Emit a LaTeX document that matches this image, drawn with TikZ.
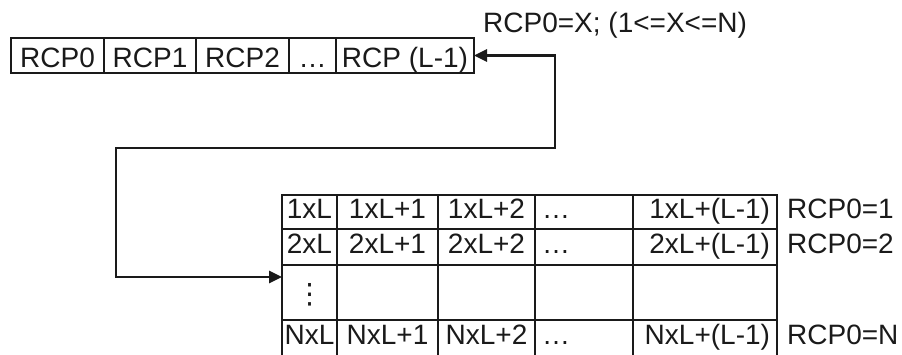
\documentclass[tikz,border=0pt]{standalone}
\usepackage{fontspec}
\setmainfont{Liberation Sans}
\newfontfamily\symfont{DejaVu Sans}
\usetikzlibrary{arrows.meta}
\definecolor{ink}{HTML}{1A1A1A}
\begin{document}
\begin{tikzpicture}[x=1pt,y=-1pt,
  txt/.style={font=\fontsize{28}{33}\selectfont, text=ink},
  topcell/.style={txt, draw=ink, line width=1.1pt, minimum height=35pt, inner sep=0pt, outer sep=0pt, anchor=north west, text height=28pt, text depth=5pt},
  tcell/.style={txt, draw=ink, line width=1.1pt, inner sep=0pt, outer sep=0pt, anchor=north west, text height=20.5pt, text depth=7.5pt},
  lcell/.style={tcell, inner xsep=7pt, text width=84pt, align=left},
  rcell/.style={tcell, inner xsep=7pt, text width=130pt, align=right},
  lab/.style={txt, inner sep=0pt, anchor=west, text height=20.5pt, text depth=7.5pt, xshift=10pt},
  conn/.style={draw=ink, line width=2.8pt, {Triangle[length=13pt,width=12pt]}-{Triangle[length=13pt,width=12pt]}}
]
\useasboundingbox (0,0) rectangle (902,354);

% top row
\node[topcell, minimum width=93pt] (r0) at (11,38) {RCP0};
\node[topcell, minimum width=92pt] (r1) at (r0.north east) {RCP1};
\node[topcell, minimum width=93pt] (r2) at (r1.north east) {RCP2};
\node[topcell, minimum width=47pt] (r3) at (r2.north east) {…};
\node[topcell, minimum width=138pt] (r4) at (r3.north east) {RCP (L-1)};

\node[txt, anchor=base west, inner sep=0pt] (lx) at (483,32) {RCP0=X; (1<=X<=N)};

% table row 1
\node[tcell, minimum width=55pt, minimum height=34pt] (a1) at (282,195) {1xL};
\node[tcell, minimum width=101pt, minimum height=34pt] (a2) at (a1.north east) {1xL+1};
\node[tcell, minimum width=97pt, minimum height=34pt] (a3) at (a2.north east) {1xL+2};
\node[lcell, minimum height=34pt] (a4) at (a3.north east) {…};
\node[rcell, minimum height=34pt] (a5) at (a4.north east) {1xL+(L-1)};
% row 2
\node[tcell, minimum width=55pt, minimum height=36pt] (b1) at (a1.south west) {2xL};
\node[tcell, minimum width=101pt, minimum height=36pt] (b2) at (b1.north east) {2xL+1};
\node[tcell, minimum width=97pt, minimum height=36pt] (b3) at (b2.north east) {2xL+2};
\node[lcell, minimum height=36pt] (b4) at (b3.north east) {…};
\node[rcell, minimum height=36pt] (b5) at (b4.north east) {2xL+(L-1)};
% row 3
\node[tcell, minimum width=55pt, minimum height=55pt] (c1) at (b1.south west) {\raisebox{-4pt}{\symfont ⋮}};
\node[tcell, minimum width=101pt, minimum height=55pt] (c2) at (c1.north east) {};
\node[tcell, minimum width=97pt, minimum height=55pt] (c3) at (c2.north east) {};
\node[lcell, minimum height=55pt] (c4) at (c3.north east) {};
\node[rcell, minimum height=55pt] (c5) at (c4.north east) {};
% row 4
\node[tcell, minimum width=55pt, minimum height=36pt] (d1) at (c1.south west) {NxL};
\node[tcell, minimum width=101pt, minimum height=36pt] (d2) at (d1.north east) {NxL+1};
\node[tcell, minimum width=97pt, minimum height=36pt] (d3) at (d2.north east) {NxL+2};
\node[lcell, minimum height=36pt] (d4) at (d3.north east) {…};
\node[rcell, minimum height=36pt] (d5) at (d4.north east) {NxL+(L-1)};

% labels
\node[lab] (la) at (a5.east) {RCP0=1};
\node[lab] (lb) at (b5.east) {RCP0=2};
\node[lab] (ld) at (d5.east) {RCP0=N};

% connector
\coordinate (k1) at (555,148);
\coordinate (k2) at (116,148);
\coordinate (tin) at ([yshift=-12pt]c1.north west);
\draw[conn] (r4.east) -| (k1) -- (k2) |- (tin);
\end{tikzpicture}
\end{document}
